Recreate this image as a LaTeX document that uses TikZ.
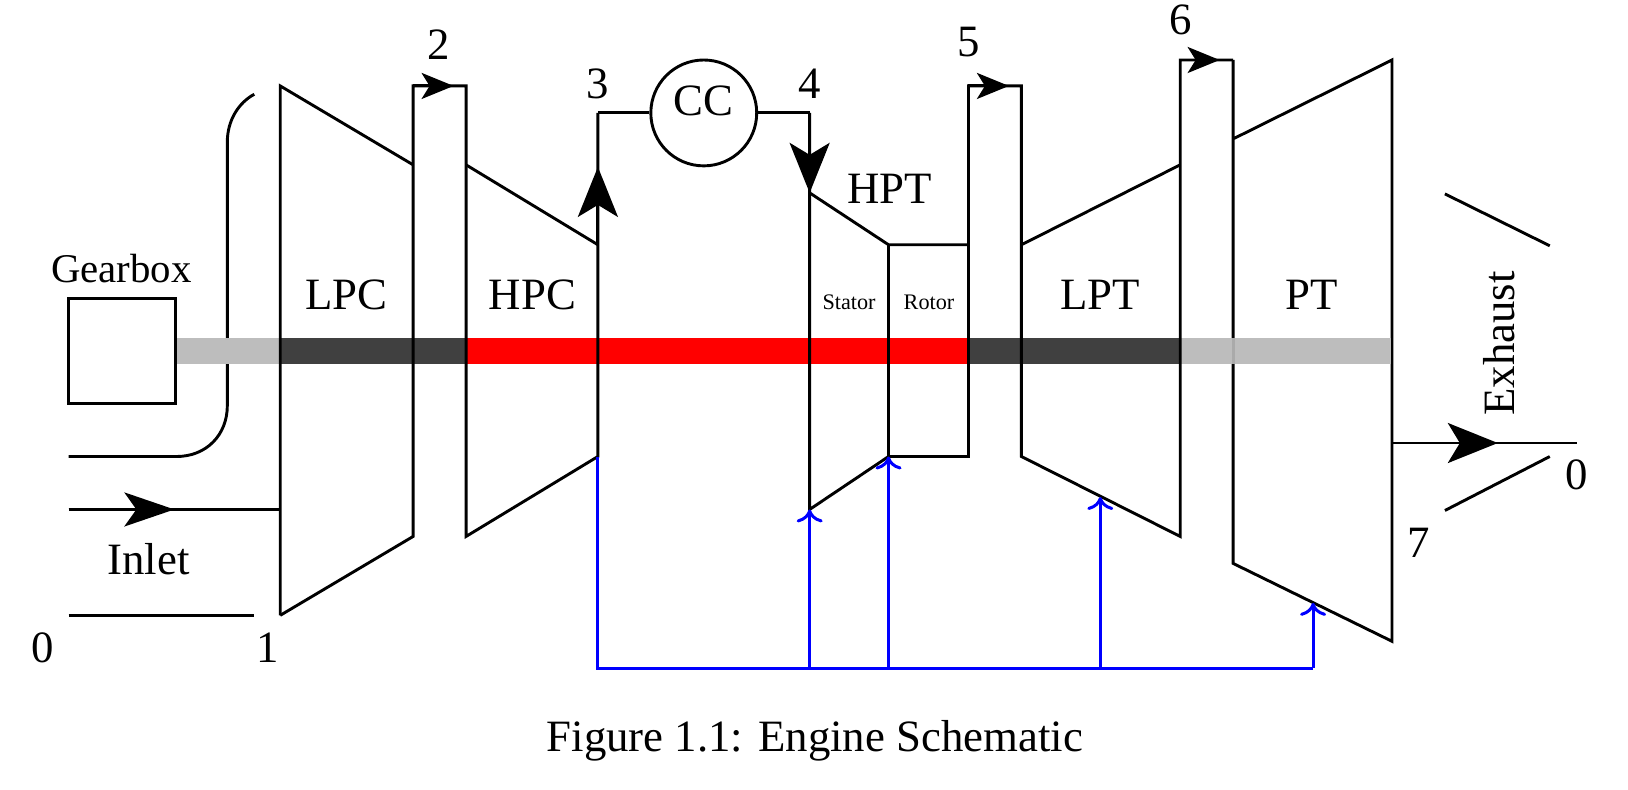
\documentclass[tikz,border=0pt]{standalone}
\usepackage{fontspec}
\setmainfont{Liberation Serif}
\usetikzlibrary{arrows.meta}
\tikzset{
  wall/.style={draw=black,line width=1.45pt,line join=miter},
  bleed/.style={draw=blue,line width=1.5pt},
  bigtip/.style={-{Stealth[length=25pt,width=20pt,inset=6pt]}},
  inlettip/.style={-{Stealth[length=25pt,width=17pt,inset=6pt]}},
  smalltip/.style={-{Stealth[length=16pt,width=13pt,inset=4pt]}},
  bleedtip/.style={-{Computer Modern Rightarrow[length=6.5pt,width=13pt,line width=1.5pt]}},
  lab/.style={inner sep=0pt,font=\fontsize{22.4}{26}\selectfont},
  smalllab/.style={inner sep=0pt,font=\fontsize{11.1}{13}\selectfont},
  gearlab/.style={inner sep=0pt,font=\fontsize{20.4}{24}\selectfont},
}
\definecolor{shaftgrey}{HTML}{BDBDBD}
\definecolor{shaftdark}{HTML}{404040}
\begin{document}
\begin{tikzpicture}[x=0.519pt,y=-0.519pt]
\useasboundingbox (0,-0.8) rectangle (1568.4,760.2);

% stations
\coordinate (lpcTL) at (270,82);   \coordinate (lpcTR) at (398,158);
\coordinate (lpcBL) at (270,592);  \coordinate (lpcBR) at (398,516);
\coordinate (d2L)   at (398,82);   \coordinate (d2R)   at (449,82);
\coordinate (d2tip) at (437,82);
\coordinate (hpcTL) at (449,158);  \coordinate (hpcTR) at (576,235);
\coordinate (hpcBL) at (449,516);  \coordinate (hpcBR) at (576,439);
\coordinate (st3)   at (576,108);  \coordinate (st3tip) at (576,160);
\coordinate (st4)   at (780,108);  \coordinate (st4tip) at (780,185);
\coordinate (statB) at (780,490);
\coordinate (rotTL) at (856,235);  \coordinate (rotBL) at (856,439);
\coordinate (rotTR) at (933,235);  \coordinate (rotBR) at (933,439);
\coordinate (d5L)   at (933,82);   \coordinate (d5R)   at (984,82);
\coordinate (d5tip) at (972,82);
\coordinate (lptTL) at (984,235);  \coordinate (lptTR) at (1137,158);
\coordinate (lptBL) at (984,439);  \coordinate (lptBR) at (1137,516);
\coordinate (d6L)   at (1137,57);  \coordinate (d6R)   at (1188,57);
\coordinate (d6tip) at (1175,57);
\coordinate (ptTL)  at (1188,133); \coordinate (ptTR)  at (1341,57);
\coordinate (ptBL)  at (1188,542); \coordinate (ptBR)  at (1341,617);
\coordinate (exA)   at (1341,426); \coordinate (extip) at (1443,426);
\coordinate (exB)   at (1519,426);
\coordinate (nozA)  at (1392,186); \coordinate (nozB)  at (1493,236);
\coordinate (nozC)  at (1392,491); \coordinate (nozD)  at (1493,439);
\coordinate (cowA)  at (66,439);   \coordinate (cowB)  at (170,439);
\coordinate (cowC)  at (219,390);  \coordinate (cowD)  at (219,136);
\coordinate (cowE)  at (245,90);
\coordinate (inA)   at (66,490);   \coordinate (intip) at (168,490);
\coordinate (inB)   at (270,490);
\coordinate (lipA)  at (66,592);   \coordinate (lipB)  at (245,592);
\coordinate (blA)   at (576,643);  \coordinate (blB)   at (780,643);
\coordinate (blC)   at (856,643);  \coordinate (blD)   at (1060,643);
\coordinate (blE)   at (1265,643);
\coordinate (lptTap) at (1060,478); \coordinate (ptTap) at (1265,580);

% items that the shaft covers
\draw[wall,line cap=butt] (cowA) -- (cowB) .. controls (199,439) and (219,418) .. (cowC)
  -- (cowD) .. controls (219,115) and (230,98) .. (cowE);
\draw[wall] (d6R) -- (ptBL) -- (ptBR) -- (ptTR) -- (ptTL);

% shaft
\fill[shaftgrey] (169.5,324.4) rectangle (270,350);
\fill[shaftdark] (270,324.4) rectangle (449,350);
\fill[red]       (449,324.4) rectangle (933,350);
\fill[shaftdark] (933,324.4) rectangle (1137,350);
\fill[shaftgrey] (1137,324.4) rectangle (1341,350);
\draw[line width=1.45pt,shaftgrey!90!black] (1188,324.4) -- (1188,350);

% compressors and turbines
\draw[wall] (lpcBL) -- (lpcTL) -- (lpcTR);
\draw[wall] (lpcBL) -- (lpcBR) -- (d2L) -- (d2R) -- (hpcBL) -- (hpcBR) -- (st3);
\draw[wall] (hpcTL) -- (hpcTR);
\draw[wall] (st4) -- (statB) -- (rotBL) -- (rotBR) -- (d5L) -- (d5R) -- (lptBL) -- (lptBR) -- (d6L) -- (d6R);
\draw[wall] (st4tip) -- (rotTL) -- (rotTR);
\draw[wall] (rotTL) -- (rotBL);
\draw[wall] (lptTL) -- (lptTR);
\draw[wall] (ptBR) -- (ptTR);

% combustor
\node[draw=black,line width=1.45pt,circle,minimum size=102pt*0.519,inner sep=0pt] (cc) at (678,108) {};
\node[lab] (cctext) at (678,96.5) {CC};
\draw[wall] (st3) -- (cc);
\draw[wall] (cc) -- (st4);

% gearbox
\node[draw=black,line width=1.45pt,minimum width=103*0.519pt,minimum height=101*0.519pt,inner sep=0pt] (gear) at (117.5,337.5) {};

% gas path arrows
\draw[wall,bigtip] (hpcTR) -- (st3tip);
\draw[wall,bigtip] (st4) -- (st4tip);
\draw[wall,smalltip] (d2L) -- (d2tip);
\draw[wall,smalltip] (d5L) -- (d5tip);
\draw[wall,smalltip] (d6L) -- (d6tip);
\draw[wall] (inA) -- (inB);
\draw[wall,inlettip] (inA) -- (intip);
\draw[wall] (exA) -- (exB);
\draw[wall,bigtip] (exA) -- (extip);
\draw[wall] (lipA) -- (lipB);
\draw[wall] (nozA) -- (nozB);
\draw[wall] (nozC) -- (nozD);

% cooling flow
\draw[bleed,line join=miter] (hpcBR) -- (blA) -- (blE);
\draw[bleed,bleedtip] (blB) -- (statB);
\draw[bleed,bleedtip] (blC) -- (rotBL);
\draw[bleed,bleedtip] (blD) -- (lptTap);
\draw[bleed,bleedtip] (blE) -- (ptTap);

% labels
\node[gearlab] (tGear) at (117,258) {Gearbox};
\node[lab] (tLPC) at (334,283) {LPC};
\node[lab] (tHPC) at (513,283) {HPC};
\node[lab] (tLPT) at (1060,283) {LPT};
\node[lab] (tPT)  at (1264,283) {PT};
\node[lab] (tHPT) at (857,181) {HPT};
\node[smalllab] (tSt) at (818,290) {Stator};
\node[smalllab] (tRo) at (895,290) {Rotor};
\node[lab] (tIn) at (143,538) {Inlet};
\node[lab,rotate=90] (tEx) at (1444,330) {Exhaust};
\node[lab] (n0a) at (41,623) {0};
\node[lab] (n1)  at (258,623) {1};
\node[lab] (n2)  at (423,42) {2};
\node[lab] (n3)  at (576,80) {3};
\node[lab] (n4)  at (780,80) {4};
\node[lab] (n5)  at (933,40) {5};
\node[lab] (n6)  at (1137,18) {6};
\node[lab] (n7)  at (1367,522) {7};
\node[lab] (n0b) at (1519,457) {0};
\node[lab] (cap) at (785,713) {Figure 1.1: Engine Schematic};
\end{tikzpicture}
\end{document}
